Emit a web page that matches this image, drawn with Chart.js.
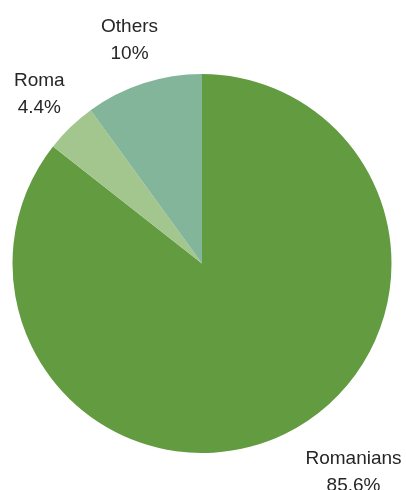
<!DOCTYPE html>
<html>
<head>
<meta charset="utf-8">
<script src="https://cdn.jsdelivr.net/npm/chart.js@4/dist/chart.umd.min.js"></script>
<style>
    html, body { margin: 0; padding: 0; background: #fff; }
    canvas { display: block; }
</style>
</head>
<body>
<canvas id="chart-ethnic" width="406" height="490"></canvas>
<script>
// ── Données ───────────────────────────────────────────────────────────
const groups  = ['Romanians', 'Roma', 'Others']
const shares  = [85.6, 4.4, 10]
const colours = ['#629b40', '#a3c68f', '#82b59a']

// Étiquettes à l'extérieur du camembert : nom + pourcentage
const outsideLabels = {
    id: 'outsideLabels',
    afterDatasetsDraw(chart, args, opts) {
        const { ctx } = chart
        const meta = chart.getDatasetMeta(0)
        ctx.save()
        ctx.font = opts.font
        ctx.fillStyle = opts.color
        ctx.textAlign = 'center'
        ctx.textBaseline = 'middle'
        meta.data.forEach((arc, i) => {
            const { x, y, startAngle, endAngle, outerRadius } = arc.getProps(['x', 'y', 'startAngle', 'endAngle', 'outerRadius'], true)
            const mid  = (startAngle + endAngle) / 2
            const dist = outerRadius + opts.offset
            const nudge = opts.nudge[i] || [0, 0]
            const lx = x + Math.cos(mid) * dist + nudge[0]
            const ly = y + Math.sin(mid) * dist + nudge[1]
            const value = chart.data.datasets[0].data[i]
            ctx.fillText(chart.data.labels[i], lx, ly - opts.lineHeight / 2)
            ctx.fillText(value + '%', lx, ly + opts.lineHeight / 2)
        })
        ctx.restore()
    }
}

new Chart(document.getElementById('chart-ethnic'), {
    type: 'pie',
    data: {
        labels: groups,
        datasets: [{
            data: shares,
            backgroundColor: colours,
            borderWidth: 0,
        }]
    },
    options: {
        responsive: false,
        animation: false,
        layout: { padding: { left: 12.5, right: 14.5, top: 74, bottom: 37 } },
        plugins: {
            legend: { display: false },
            tooltip: { enabled: false },
            outsideLabels: {
                font: '19px "Liberation Sans", Arial, sans-serif',
                color: '#262626',
                offset: 45,
                lineHeight: 27,
                nudge: [[49, -2], [0, 0], [0, 0]],
            }
        }
    },
    plugins: [outsideLabels]
})
</script>
</body>
</html>
